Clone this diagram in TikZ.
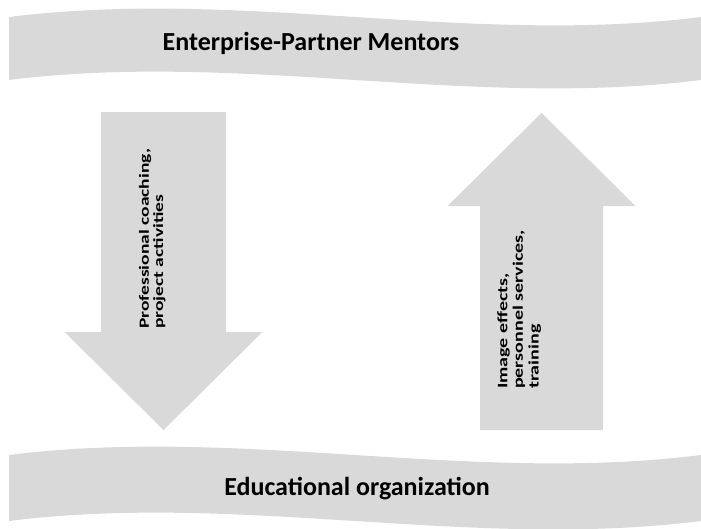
\documentclass[tikz,border=0pt]{standalone}
\usepackage{fontspec}
\setmainfont{Carlito}
\usetikzlibrary{calc}
\definecolor{bandgray}{HTML}{D9D9D9}
\tikzstyle{band}=[fill=bandgray,draw=none]
\tikzstyle{bandlabel}=[inner sep=0pt,font=\bfseries\fontsize{26}{30}\selectfont]
\tikzstyle{arrowlabel}=[rotate=90,yscale=0.72,anchor=north west,align=left,inner sep=0pt]
\newcommand{\drawwave}[2]{ % Syntax: {y at both ends}{thickness}
\pgfmathsetmacro{\ytop}{#1}
\pgfmathsetmacro{\ybot}{#1+#2}
\path[band] (9,\ytop) .. controls (240,\ytop-29) and (470,\ytop+29) .. (701,\ytop)
  -- (701,\ybot) .. controls (470,\ybot+29) and (240,\ybot-29) .. (9,\ybot) -- cycle;
}
\newcommand{\drawblockarrow}[6]{ % Syntax: {center x}{tail y}{tip y}{head y}{shaft half width}{head half width}
\path[band] (#1-#5,#2) -- (#1-#5,#4) -- (#1-#6,#4) -- (#1,#3) -- (#1+#6,#4) -- (#1+#5,#4) -- (#1+#5,#2) -- cycle;
}
\begin{document}
\begin{tikzpicture}[x=1pt,y=-1pt]
	\useasboundingbox (0,0) rectangle (701,528);
	\drawwave{17}{63}
	\drawwave{455}{66}
	\drawblockarrow{163.5}{112}{430}{332}{62.5}{99}
	\drawblockarrow{541.5}{430}{113}{206}{61.5}{94}
	\node[bandlabel] (mentors) at (311,43) {Enterprise-Partner Mentors};
	\node[bandlabel] (school) at (357,489) {Educational organization};
	\node[arrowlabel,font=\bfseries\fontsize{19.5}{19.5}\selectfont] (coaching) at (139,329) {Professional coaching,\\project activities};
	\node[arrowlabel,font=\bfseries\fontsize{20}{21.8}\selectfont] (effects) at (497,389) {Image effects,\\personnel services,\\training};
\end{tikzpicture}
\end{document}
